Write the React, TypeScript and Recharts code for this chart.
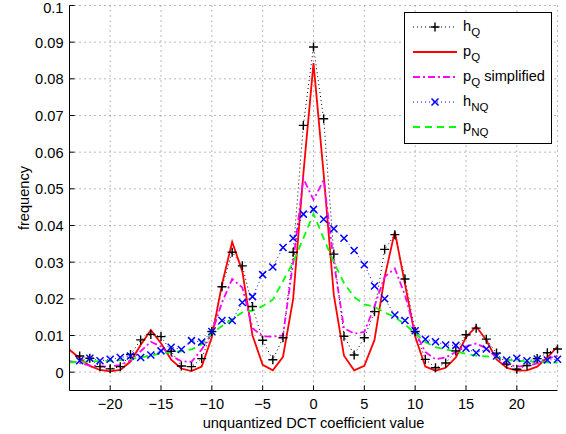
import React from 'react';
import { LineChart, Line, XAxis, YAxis, CartesianGrid, Legend } from 'recharts';

const xValues = [-24, -23, -22, -21, -20, -19, -18, -17, -16, -15, -14, -13, -12, -11, -10, -9, -8, -7, -6, -5, -4, -3, -2, -1, 0, 1, 2, 3, 4, 5, 6, 7, 8, 9, 10, 11, 12, 13, 14, 15, 16, 17, 18, 19, 20, 21, 22, 23, 24];

const hQ = [null, 0.0044, 0.0038, 0.0015, 0.0009, 0.0015, 0.0048, 0.0088, 0.0103, 0.0097, 0.0057, 0.0017, 0.0015, 0.0037, 0.0111, 0.0233, 0.0327, 0.029, 0.0179, 0.0087, 0.0034, 0.0094, 0.0327, 0.0673, 0.0887, 0.0691, 0.0322, 0.0098, 0.0047, 0.0094, 0.0165, 0.0335, 0.0375, 0.0254, 0.0111, 0.0035, 0.0012, 0.0025, 0.0058, 0.0102, 0.012, 0.009, 0.0052, 0.0022, 0.0008, 0.0018, 0.0037, 0.0053, 0.0063];

const pQ = [0.0061, 0.0038, 0.0017, 0.0006, 0.0002, 0.0006, 0.0029, 0.0074, 0.0115, 0.0079, 0.0034, 0.001, 0.0003, 0.0015, 0.0095, 0.024, 0.0355, 0.0275, 0.01, 0.002, 0.0005, 0.0042, 0.02, 0.054, 0.0843, 0.054, 0.021, 0.0045, 0.0005, 0.0017, 0.0088, 0.026, 0.0383, 0.024, 0.0097, 0.0015, 0.0004, 0.0012, 0.004, 0.0095, 0.0125, 0.0087, 0.0035, 0.0012, 0.0004, 0.0005, 0.0015, 0.004, 0.007];

const pQSimplified = [0.003, 0.0025, 0.0018, 0.0016, 0.0016, 0.0019, 0.0032, 0.0057, 0.0083, 0.007, 0.0045, 0.003, 0.0028, 0.0062, 0.0106, 0.019, 0.0254, 0.0231, 0.012, 0.0098, 0.0097, 0.01, 0.03, 0.0528, 0.047, 0.0524, 0.03, 0.012, 0.0105, 0.011, 0.018, 0.026, 0.0283, 0.021, 0.011, 0.0055, 0.0035, 0.004, 0.0055, 0.007, 0.0078, 0.0065, 0.004, 0.002, 0.0016, 0.0017, 0.0024, 0.0036, 0.0045];

const hNQ = [null, 0.0031, 0.0038, 0.0031, 0.0035, 0.004, 0.0044, 0.004, 0.0047, 0.0058, 0.0068, 0.0062, 0.0086, 0.0082, 0.0111, 0.0141, 0.0141, 0.019, 0.0206, 0.0266, 0.0287, 0.034, 0.0365, 0.0431, 0.0444, 0.0417, 0.0391, 0.0365, 0.0332, 0.0293, 0.0235, 0.02, 0.0156, 0.0141, 0.0113, 0.009, 0.0083, 0.0074, 0.0073, 0.0065, 0.0053, 0.0063, 0.0044, 0.0033, 0.0038, 0.0031, 0.0036, 0.0033, 0.0035];

const pNQ = [0.0027, 0.0028, 0.0029, 0.003, 0.0031, 0.0033, 0.0036, 0.004, 0.0045, 0.0051, 0.0055, 0.0057, 0.0062, 0.0076, 0.0106, 0.0126, 0.0145, 0.0163, 0.0168, 0.018, 0.0198, 0.0248, 0.03, 0.0365, 0.0432, 0.0365, 0.03, 0.0243, 0.0205, 0.0185, 0.0178, 0.0163, 0.015, 0.013, 0.0106, 0.0082, 0.0068, 0.0062, 0.0056, 0.005, 0.0045, 0.0043, 0.004, 0.0034, 0.0031, 0.003, 0.0028, 0.0027, 0.0026];

const xTicks = [-20, -15, -10, -5, 0, 5, 10, 15, 20];
const yTicks = [0, 0.01, 0.02, 0.03, 0.04, 0.05, 0.06, 0.07, 0.08, 0.09, 0.1];
const xLabel = 'unquantized DCT coefficient value';
const yLabel = 'frequency';

const data = xValues.map((x, i) => ({
  x,
  hQ: hQ[i],
  pQ: pQ[i],
  pQs: pQSimplified[i],
  hNQ: hNQ[i],
  pNQ: pNQ[i],
}));

const FONT = '"Liberation Sans", Arial, Helvetica, sans-serif';
const FS = 14.6;
const TICK = 5;

const fmtX = (v: number) => (v < 0 ? '\u2212' + Math.abs(v) : String(v));

const BottomTick = (props: any) => {
  const { x, y, payload } = props;
  return (
    <g>
      <line x1={x} x2={x} y1={y} y2={y - TICK} stroke="#000" strokeWidth={1} />
      <text x={x} y={y + 18} textAnchor="middle" fontFamily={FONT} fontSize={FS} fill="#000">
        {fmtX(payload.value)}
      </text>
    </g>
  );
};

const TopTick = (props: any) => {
  const { x, y } = props;
  return <line x1={x} x2={x} y1={y} y2={y + TICK} stroke="#000" strokeWidth={1} />;
};

const LeftTick = (props: any) => {
  const { x, y, payload } = props;
  return (
    <g>
      <line x1={x} x2={x + TICK} y1={y} y2={y} stroke="#000" strokeWidth={1} />
      <text x={x - 6} y={Math.max(y + 5.4, 12.5)} textAnchor="end" fontFamily={FONT} fontSize={FS} fill="#000">
        {String(payload.value)}
      </text>
    </g>
  );
};

const RightTick = (props: any) => {
  const { x, y } = props;
  return <line x1={x} x2={x - TICK} y1={y} y2={y} stroke="#000" strokeWidth={1} />;
};

const PlusDot = (props: any) => {
  const { cx, cy, value, index } = props;
  if (cx == null || cy == null || value == null || isNaN(cy)) return <g key={'p' + index} />;
  const s = 4.5;
  return (
    <path
      key={'p' + index}
      d={`M${cx - s},${cy}H${cx + s}M${cx},${cy - s}V${cy + s}`}
      stroke="#000"
      strokeWidth={1.4}
      fill="none"
    />
  );
};

const CrossDot = (props: any) => {
  const { cx, cy, value, index } = props;
  if (cx == null || cy == null || value == null || isNaN(cy)) return <g key={'c' + index} />;
  const s = 3.5;
  return (
    <path
      key={'c' + index}
      d={`M${cx - s},${cy - s}L${cx + s},${cy + s}M${cx - s},${cy + s}L${cx + s},${cy - s}`}
      stroke="#0000ff"
      strokeWidth={1.5}
      fill="none"
    />
  );
};

const legendItems = [
  { main: 'h', sub: 'Q', extra: '', color: '#000000', dash: '1 3', width: 1, marker: 'plus' },
  { main: 'p', sub: 'Q', extra: '', color: '#ff0000', dash: '', width: 1.8, marker: '' },
  { main: 'p', sub: 'Q', extra: ' simplified', color: '#ff00ff', dash: '7 3 2 3', width: 1.8, marker: '' },
  { main: 'h', sub: 'NQ', extra: '', color: '#0000ff', dash: '1 3', width: 1, marker: 'cross' },
  { main: 'p', sub: 'NQ', extra: '', color: '#00ff00', dash: '7 5', width: 1.8, marker: '' },
];

const LegendBox = () => (
  <svg width={148} height={132} style={{ display: 'block' }}>
    <rect x={0.5} y={0.5} width={147} height={131} fill="#fff" stroke="#000" strokeWidth={1} />
    {legendItems.map((it, i) => {
      const cy = 15 + i * 25;
      return (
        <g key={i}>
          <line x1={9} x2={53} y1={cy} y2={cy} stroke={it.color} strokeWidth={it.width} strokeDasharray={it.dash || undefined} />
          {it.marker === 'plus' && (
            <path d={`M${26.5},${cy}H${35.5}M${31},${cy - 4.5}V${cy + 4.5}`} stroke="#000" strokeWidth={1.4} fill="none" />
          )}
          {it.marker === 'cross' && (
            <path d={`M${27.5},${cy - 3.5}L${34.5},${cy + 3.5}M${27.5},${cy + 3.5}L${34.5},${cy - 3.5}`} stroke="#0000ff" strokeWidth={1.5} fill="none" />
          )}
          <text x={59} y={cy + 4} fontFamily={FONT} fontSize={FS} fill="#000">
            {it.main}
            <tspan dy={5} fontSize={11.5}>{it.sub}</tspan>
            {it.extra ? <tspan dy={-5} fontSize={FS}>{it.extra}</tspan> : null}
          </text>
        </g>
      );
    })}
  </svg>
);

export default function App() {
  return (
    <div style={{ position: 'absolute', left: 0, top: 0, width: 566, height: 434, background: '#fff' }}>
      <LineChart
        width={566}
        height={434}
        data={data}
        margin={{ top: 5.5, right: 8.5, bottom: 0, left: 0 }}
        style={{ fontFamily: FONT }}
      >
        <CartesianGrid stroke="#777" strokeDasharray="1 4" vertical horizontal />
        <XAxis
          dataKey="x"
          type="number"
          domain={[-24, 24]}
          ticks={xTicks}
          interval={0}
          height={43.5}
          tickSize={0}
          tickMargin={0}
          tickLine={false}
          tick={<BottomTick />}
          axisLine={{ stroke: '#000', strokeWidth: 1 }}
          label={(p: any) => {
            const vb = p.viewBox || { x: 69.5, y: 390.5, width: 488 };
            return (
              <text x={vb.x + vb.width / 2} y={vb.y + 37} textAnchor="middle" fontFamily={FONT} fontSize={FS} fill="#000">
                {xLabel}
              </text>
            );
          }}
        />
        <XAxis
          xAxisId="top"
          dataKey="x"
          type="number"
          orientation="top"
          domain={[-24, 24]}
          ticks={xTicks}
          interval={0}
          height={0}
          tickSize={0}
          tickMargin={0}
          tickLine={false}
          tick={<TopTick />}
          axisLine={{ stroke: '#000', strokeWidth: 1 }}
        />
        <YAxis
          type="number"
          domain={[-0.005, 0.1]}
          ticks={yTicks}
          interval={0}
          width={69.5}
          tickSize={0}
          tickMargin={0}
          tickLine={false}
          tick={<LeftTick />}
          axisLine={{ stroke: '#000', strokeWidth: 1 }}
          label={(p: any) => {
            const vb = p.viewBox || { x: 0, y: 5.5, height: 385 };
            const cx = 29;
            const cy = vb.y + vb.height / 2;
            return (
              <text x={cx} y={cy} transform={`rotate(-90 ${cx} ${cy})`} textAnchor="middle" fontFamily={FONT} fontSize={FS} fill="#000">
                {yLabel}
              </text>
            );
          }}
        />
        <YAxis
          yAxisId="right"
          orientation="right"
          type="number"
          domain={[-0.005, 0.1]}
          ticks={yTicks}
          interval={0}
          width={0}
          tickSize={0}
          tickMargin={0}
          tickLine={false}
          tick={<RightTick />}
          axisLine={{ stroke: '#000', strokeWidth: 1 }}
        />
        <Legend
          layout="horizontal"
          verticalAlign="middle"
          align="center"
          wrapperStyle={{ position: 'absolute', left: 404, top: 12, width: 148, height: 132 }}
          content={() => <LegendBox />}
        />
        <Line
          dataKey="hQ"
          name="hQ"
          type="linear"
          stroke="#000"
          strokeWidth={1}
          strokeDasharray="1 3"
          dot={PlusDot}
          activeDot={false}
          isAnimationActive={false}
        />
        <Line
          dataKey="pQ"
          name="pQ"
          type="linear"
          stroke="#ff0000"
          strokeWidth={1.8}
          dot={false}
          activeDot={false}
          isAnimationActive={false}
        />
        <Line
          dataKey="pQs"
          name="pQ simplified"
          type="linear"
          stroke="#ff00ff"
          strokeWidth={1.8}
          strokeDasharray="7 3 2 3"
          dot={false}
          activeDot={false}
          isAnimationActive={false}
        />
        <Line
          dataKey="hNQ"
          name="hNQ"
          type="linear"
          stroke="#0000ff"
          strokeWidth={1}
          strokeDasharray="1 3"
          dot={CrossDot}
          activeDot={false}
          isAnimationActive={false}
        />
        <Line
          dataKey="pNQ"
          name="pNQ"
          type="linear"
          stroke="#00ff00"
          strokeWidth={1.8}
          strokeDasharray="7 5"
          dot={false}
          activeDot={false}
          isAnimationActive={false}
        />
      </LineChart>
    </div>
  );
}
